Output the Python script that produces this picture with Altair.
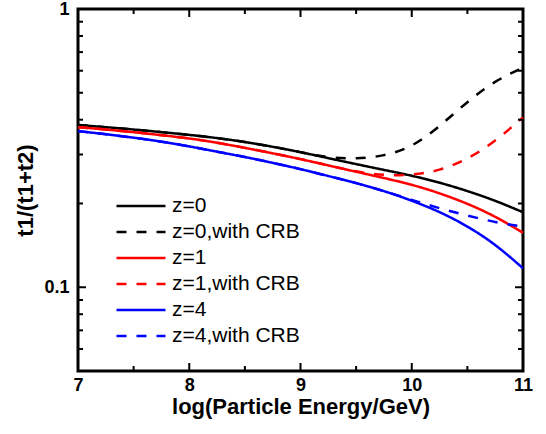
import altair as alt
import pandas as pd

# ---- data ----
energy = [7.0, 7.25, 7.5, 7.75, 8.0, 8.25, 8.5, 8.75, 9.0,
          9.25, 9.5, 9.75, 10.0, 10.25, 10.5, 10.75, 11.0]

z0 = [0.383, 0.376, 0.369, 0.361, 0.353, 0.344, 0.333, 0.320, 0.306,
      0.291, 0.277, 0.264, 0.252, 0.238, 0.222, 0.205, 0.186]
z0_crb = [0.383, 0.376, 0.369, 0.361, 0.353, 0.344, 0.333, 0.320, 0.306,
          0.292, 0.289, 0.296, 0.318, 0.378, 0.465, 0.553, 0.615]
z1 = [0.376, 0.369, 0.361, 0.352, 0.343, 0.331, 0.317, 0.303, 0.289,
      0.274, 0.260, 0.247, 0.234, 0.218, 0.200, 0.180, 0.157]
z1_crb = [0.376, 0.369, 0.361, 0.352, 0.343, 0.331, 0.317, 0.303, 0.289,
          0.274, 0.260, 0.252, 0.253, 0.262, 0.288, 0.334, 0.408]
z4 = [0.364, 0.355, 0.345, 0.334, 0.321, 0.307, 0.294, 0.280, 0.266,
      0.251, 0.237, 0.222, 0.205, 0.187, 0.166, 0.143, 0.117]
z4_crb = [0.364, 0.355, 0.345, 0.334, 0.321, 0.307, 0.294, 0.280, 0.266,
          0.251, 0.237, 0.222, 0.206, 0.192, 0.181, 0.171, 0.165]

series_names = ["z=0", "z=0,with CRB", "z=1", "z=1,with CRB", "z=4", "z=4,with CRB"]
series_values = [z0, z0_crb, z1, z1_crb, z4, z4_crb]
series_colors = ["#000000", "#000000", "#ff0000", "#ff0000", "#0000ff", "#0000ff"]
series_dash = [[1, 0], [10, 10], [1, 0], [10, 10], [1, 0], [10, 10]]

x_major = [7, 8, 9, 10, 11]
x_minor = [7.5, 8.5, 9.5, 10.5]
y_major = [0.1, 1]
y_minor = [0.06, 0.07, 0.08, 0.09, 0.2, 0.3, 0.4, 0.5, 0.6, 0.7, 0.8, 0.9]

# ---- build table ----
rows = []
for name, vals in zip(series_names, series_values):
    for e, v in zip(energy, vals):
        rows.append({"energy": e, "ratio": v, "series": name})
df = pd.DataFrame(rows)

W, H = 445, 362
FONT = "Liberation Sans"

xscale = alt.Scale(domain=[7, 11], nice=False, zero=False)
yscale = alt.Scale(type="log", domain=[0.05, 1], nice=False)

xaxis = alt.Axis(values=x_major, ticks=False, domain=False, grid=False,
                 labelFlush=False, labelFont=FONT, labelFontSize=18,
                 labelFontWeight="bold", labelColor="black", labelPadding=5,
                 title="log(Particle Energy/GeV)", titleFont=FONT,
                 titleFontSize=22, titleFontWeight="bold", titleColor="black",
                 titlePadding=2)
yaxis = alt.Axis(values=y_major, format="~g", ticks=False, domain=False, grid=False,
                 labelFlush=False, labelFont=FONT, labelFontSize=18,
                 labelFontWeight="bold", labelColor="black", labelPadding=9,
                 title="t1/(t1+t2)", titleFont=FONT, titleFontSize=22,
                 titleFontWeight="bold", titleColor="black", titlePadding=6)

legend = alt.Legend(
    title=None, orient="none", legendX=37, legendY=184,
    symbolType="stroke", symbolSize=2401, symbolStrokeWidth=2.5,
    clipHeight=26, rowPadding=0, padding=0, labelOffset=5,
    labelFont=FONT, labelFontSize=21, labelColor="black",
)

lines = alt.Chart(df).mark_line(strokeWidth=2.5, interpolate="basis").encode(
    x=alt.X("energy:Q", scale=xscale, axis=xaxis),
    y=alt.Y("ratio:Q", scale=yscale, axis=yaxis),
    color=alt.Color("series:N", scale=alt.Scale(domain=series_names, range=series_colors),
                    legend=legend),
    strokeDash=alt.StrokeDash("series:N", scale=alt.Scale(domain=series_names, range=series_dash),
                              legend=legend),
)


def xticks(vals, length):
    d = pd.DataFrame({"energy": vals})
    bottom = alt.Chart(d).mark_rule(color="black", strokeWidth=2).encode(
        x=alt.X("energy:Q", scale=xscale, axis=xaxis),
        y=alt.value(H), y2=alt.value(H - length))
    top = alt.Chart(d).mark_rule(color="black", strokeWidth=2).encode(
        x=alt.X("energy:Q", scale=xscale, axis=xaxis),
        y=alt.value(0), y2=alt.value(length))
    return [bottom, top]


def yticks(vals, length):
    d = pd.DataFrame({"ratio": vals})
    left = alt.Chart(d).mark_rule(color="black", strokeWidth=2).encode(
        y=alt.Y("ratio:Q", scale=yscale, axis=yaxis),
        x=alt.value(0), x2=alt.value(length))
    right = alt.Chart(d).mark_rule(color="black", strokeWidth=2).encode(
        y=alt.Y("ratio:Q", scale=yscale, axis=yaxis),
        x=alt.value(W), x2=alt.value(W - length))
    return [left, right]


layers = [lines] + xticks(x_major, 8) + xticks(x_minor, 5) + yticks(y_major, 8) + yticks(y_minor, 5)

chart = alt.layer(*layers).properties(
    width=W, height=H,
    autosize=alt.AutoSizeParams(type="none"),
    padding={"left": 78, "top": 9, "right": 23, "bottom": 63},
    background="white",
).configure_view(stroke="black", strokeWidth=3)

chart.save("out.html", embed_options={"renderer": "svg", "actions": False})
